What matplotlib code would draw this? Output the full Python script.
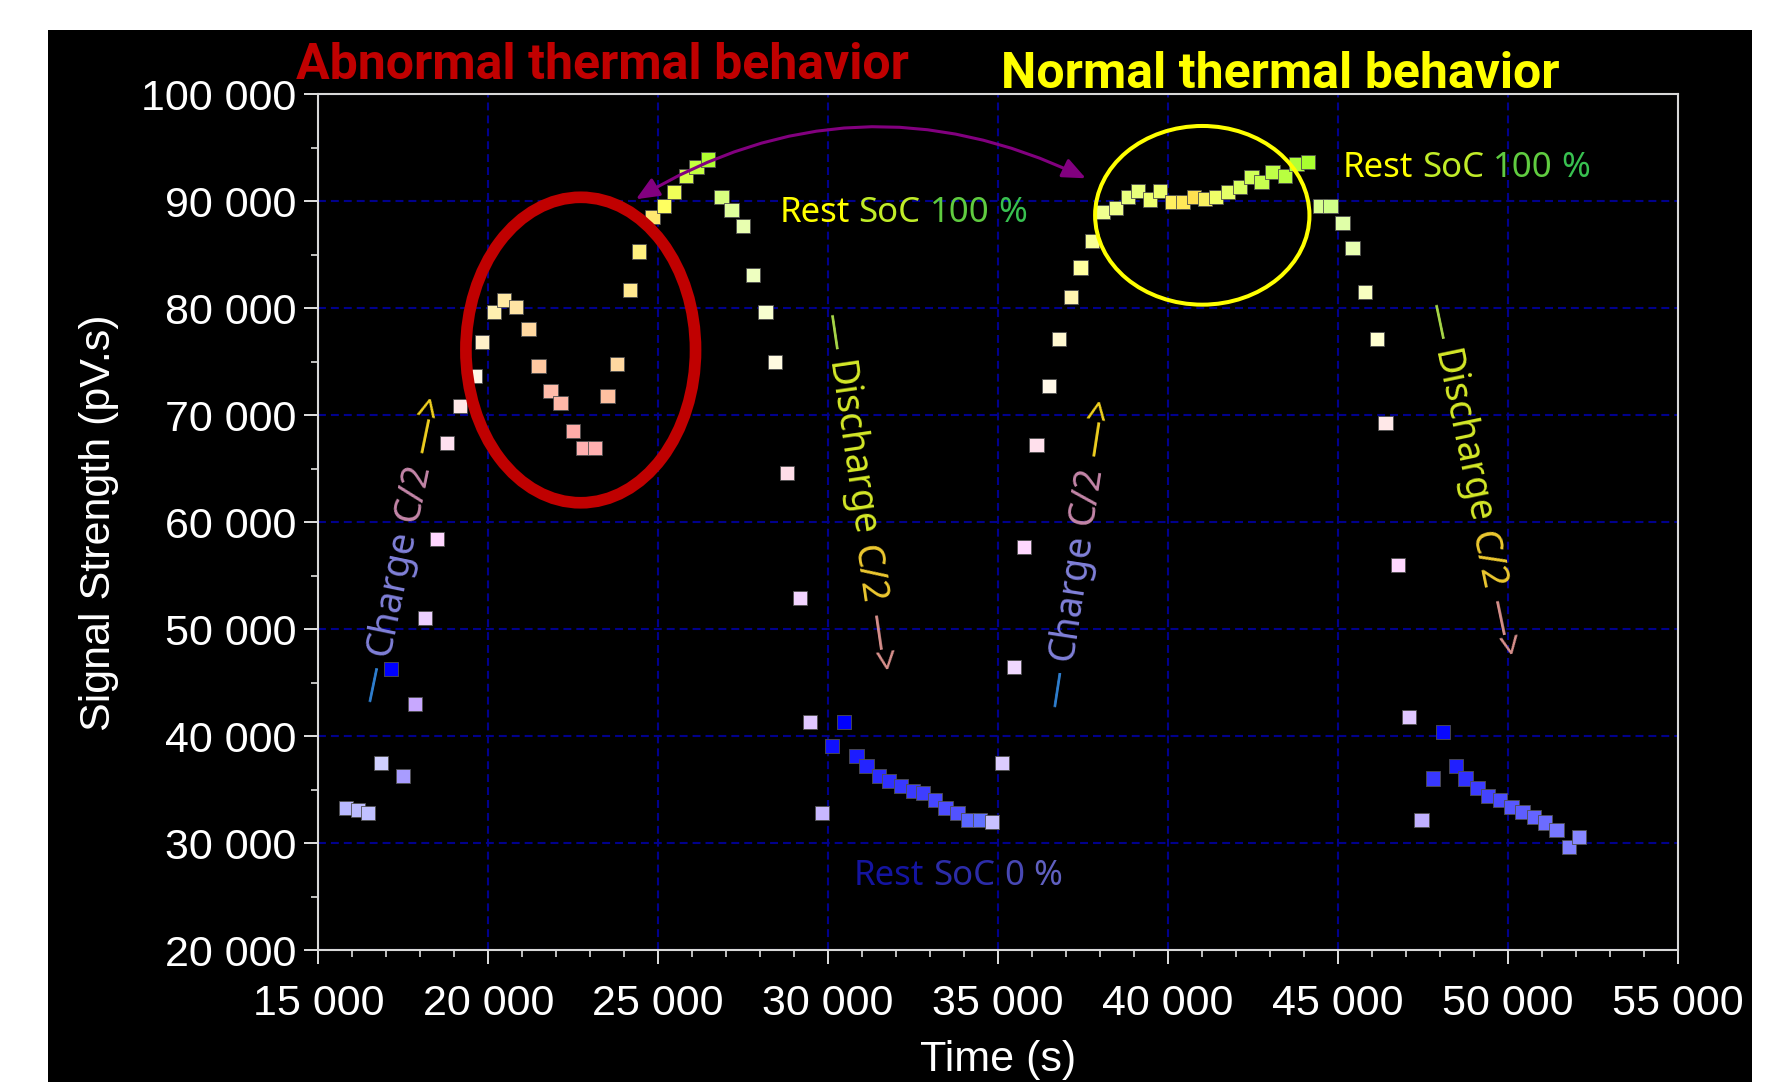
import numpy as np
import matplotlib
matplotlib.use("Agg")
import matplotlib.pyplot as plt
from matplotlib.patches import Ellipse, FancyArrowPatch, Rectangle, ArrowStyle
from matplotlib.ticker import MultipleLocator, FuncFormatter
from matplotlib.font_manager import FontProperties, findfont

# ---------------- data ----------------
time_s = [
    15815, 16176, 16470, 16835, 17130, 17490, 17844, 18138, 18500, 18794,
    19167, 19608, 19806, 20168, 20462, 20815, 21188, 21482, 21835, 22129,
    22500, 22794, 23138, 23511, 23794, 24167, 24441, 24834, 25167, 25461,
    25814, 26129, 26470, 26864, 27158, 27500, 27794, 28158, 28432, 28794,
    29167, 29461, 29823, 30117, 30470, 30835, 31129, 31490, 31785, 32138,
    32500, 32794, 33147, 33452, 33805, 34117, 34461, 34823,
    35117, 35470, 35764, 36128, 36490, 36794, 37137, 37422, 37764, 38088,
    38461, 38823, 39117, 39461, 39755, 40128, 40440, 40755, 41078, 41402,
    41764, 42108, 42452, 42746, 43070, 43432, 43775, 44117, 44460, 44774,
    45128, 45422, 45784, 46146, 46395, 46762, 47078, 47451, 47793, 48087,
    48461, 48745, 49098, 49411, 49755, 50098, 50422, 50763, 51078, 51422,
    51793, 52088]

signal_pvs = [
    33270, 33110, 32860, 37480, 46260, 36320, 42990, 51030, 58470, 67440,
    70870, 73670, 76880, 79630, 80780, 80090, 78040, 74610, 72270, 71120,
    68560, 66970, 66970, 71800, 74790, 81710, 85300, 88500, 89560, 90870,
    92360, 93230, 93920, 90430, 89190, 87690, 83110, 79630, 75010, 64640,
    52900, 41360, 32860, 39090, 41360, 38160, 37250, 36320, 35820, 35380,
    34920, 34730, 34050, 33330, 32800, 32180, 32180, 31960,
    37480, 46450, 57720, 67200, 72740, 77100, 81030, 83800, 86320, 89030,
    89350, 90430, 90990, 90180, 90990, 89960, 89960, 90430, 90210, 90370,
    90900, 91310, 92240, 91830, 92770, 92360, 93490, 93700, 89560, 89560,
    87940, 85610, 81500, 77100, 69300, 56000, 41830, 32180, 36070, 40430,
    37250, 36070, 35140, 34450, 34050, 33360, 32900, 32430, 31930, 31240,
    29630, 30560]

point_colors = [
    '#b8b8ff', '#bcbcff', '#c0c0ff', '#d0d0ff', '#0000ff', '#a89cff', '#c8a8ff', '#ecd0ff', '#ffd6ff', '#ffe0f0',
    '#ffe8e8', '#fff6e6', '#fff0c8', '#fff0b0', '#ffe8a4', '#ffe4a4', '#ffd8a0', '#ffc8a0', '#ffbcaa', '#ffb8a8',
    '#ffaca8', '#ffb0b0', '#ffb0b0', '#ffc0a0', '#ffd8a0', '#ffe890', '#fff080', '#ffe870', '#ffff60', '#f0ff58',
    '#d8ff48', '#c4ff40', '#b0ff30', '#d8ff80', '#e0ff9c', '#e8ffb0', '#eeffc0', '#f8ffd0', '#fffae0', '#ffdde8',
    '#f2d4ff', '#e0c8ff', '#c8b8ff', '#1010ff', '#0000ff', '#1c1cff', '#2424ff', '#2c2cff', '#3030ff', '#3838ff',
    '#3a3aff', '#3e3eff', '#4646ff', '#4c4cff', '#5252ff', '#5a66ff', '#6070ff', '#c8c0ff',
    '#dcccff', '#f0d8ff', '#ffd8ff', '#ffe0ec', '#fff8e8', '#fff8d0', '#fff4b0', '#ffffa0', '#f8ff98', '#f0ff90',
    '#eeff88', '#e8ff80', '#e8ff7c', '#eeff70', '#eeff70', '#fff060', '#ffe858', '#ffe050', '#f8f060', '#f0ff68',
    '#e4ff68', '#d8ff60', '#d0ff58', '#c8ff50', '#c0ff48', '#b8ff40', '#b0ff38', '#a8ff30', '#d8ff90', '#d0ff88',
    '#e0ffa8', '#e8ffb0', '#f8ffc0', '#ffffd0', '#ffe8e8', '#ffd8ff', '#e0c8ff', '#c0b0ff', '#3838ff', '#0808ff',
    '#2020ff', '#3030ff', '#3c3cff', '#4444ff', '#4c4cff', '#5858ff', '#5e5eff', '#6464ff', '#6c6cff', '#7878ff',
    '#8080ff', '#8888ff']

x_ticks = [15000, 20000, 25000, 30000, 35000, 40000, 45000, 50000, 55000]
y_ticks = [20000, 30000, 40000, 50000, 60000, 70000, 80000, 90000, 100000]

title_left = "Abnormal thermal behavior"
title_right = "Normal thermal behavior"
y_label = "Signal Strength (pV.s)"
x_label = "Time (s)"

# ---------------- figure ----------------
W_PX, H_PX, DPI = 1787, 1082, 100
plt.rcParams['font.family'] = ['Liberation Sans', 'DejaVu Sans']

fig = plt.figure(figsize=(W_PX / DPI, H_PX / DPI), dpi=DPI, facecolor='white')
fig.add_artist(Rectangle((48 / W_PX, 0), (1752 - 48) / W_PX, 1 - 30 / H_PX,
                         transform=fig.transFigure, facecolor='black',
                         edgecolor='none', zorder=0))

ax_l, ax_r, ax_t, ax_b = 318.3, 1678.0, 94.3, 950.3
ax = fig.add_axes([ax_l / W_PX, 1 - ax_b / H_PX, (ax_r - ax_l) / W_PX, (ax_b - ax_t) / H_PX])
ax.set_facecolor('black')
ax.set_xlim(x_ticks[0], x_ticks[-1])
ax.set_ylim(y_ticks[0], y_ticks[-1])
ax.set_xticks(x_ticks)
ax.set_yticks(y_ticks)
ax.xaxis.set_minor_locator(MultipleLocator(1000))
ax.yaxis.set_minor_locator(MultipleLocator(5000))
fmt = FuncFormatter(lambda v, p: f"{int(round(v)):,}".replace(",", " "))
ax.xaxis.set_major_formatter(fmt)
ax.yaxis.set_major_formatter(fmt)

ax.grid(True, which='major', color='#00008c', linestyle=(0, (3.8, 2.4)), linewidth=1.5)
ax.set_axisbelow(True)
for s in ax.spines.values():
    s.set_color('#d8d8d8')
    s.set_linewidth(1.5)

ax.tick_params(which='major', direction='out', length=10, width=1.4, color='#e0e0e0',
               labelcolor='white', labelsize=31)
ax.tick_params(which='minor', direction='out', length=5, width=1.2, color='#e0e0e0')
ax.tick_params(axis='x', which='major', pad=14)
ax.tick_params(axis='y', which='major', pad=6)

ax.set_ylabel(y_label, fontsize=31, color='white', labelpad=16)
ax.set_xlabel(x_label, fontsize=31, color='white', va='bottom')
ax.xaxis.set_label_coords(0.5, (ax_b - (H_PX - 2)) / (ax_b - ax_t))

ax.scatter(time_s, signal_pvs, marker='s', s=106, c=point_colors,
           edgecolors='#505050', linewidths=0.6, zorder=3)

# highlight ellipses
ax.add_patch(Ellipse((22720, 76100), 6755, 28550, facecolor='none',
                     edgecolor='#c00000', linewidth=8.4, zorder=4))
ax.add_patch(Ellipse((41005, 88690), 6306, 16700, facecolor='none',
                     edgecolor='#ffff00', linewidth=2.9, zorder=4))

# purple curved double arrow
ax.add_patch(FancyArrowPatch((24344, 90190), (37578, 92150),
                             arrowstyle=ArrowStyle('<|-|>', head_length=14, head_width=6),
                             connectionstyle='arc3,rad=-0.27', color='#82007f',
                             linewidth=2.2, mutation_scale=1, shrinkA=0, shrinkB=0,
                             zorder=5))

# ---------------- texts ----------------
_font_cache = {}


def em_advance(s, path):
    try:
        if path not in _font_cache:
            from fontTools.ttLib import TTFont
            f = TTFont(path, fontNumber=0)
            _font_cache[path] = (f.getBestCmap(), f['hmtx'], f['head'].unitsPerEm)
        cmap, hmtx, upem = _font_cache[path]
        tot = 0
        for ch in s:
            g = cmap.get(ord(ch))
            tot += hmtx[g][0] if g is not None else 0.55 * upem
        return tot / upem
    except Exception:
        return 0.58 * len(s)


def place_words(segs, x, y, angle, size, family='Noto Sans', anchor='start',
                mid=0.32, weight='normal'):
    prop = FontProperties(family=family, size=size, weight=weight)
    path = findfont(prop)
    em = size * DPI / 72.0
    sp = em_advance(' ', path) * em
    advs = [em_advance(t, path) * em for t, c in segs]
    total = sum(advs) + sp * (len(segs) - 1)
    th = np.deg2rad(angle)
    d = np.array([np.cos(th), np.sin(th)])
    u = np.array([-np.sin(th), np.cos(th)])
    p = np.array([x, H_PX - y], float)
    if anchor == 'center':
        p = p - d * total / 2 - u * mid * em
    for (t, c), a in zip(segs, advs):
        fig.text(p[0] / W_PX, p[1] / H_PX, t, color=c, fontsize=size,
                 family=[family, 'DejaVu Sans'], weight=weight, rotation=angle,
                 rotation_mode='anchor', ha='left', va='baseline', zorder=6)
        p = p + d * (a + sp)


fig.text(296 / W_PX, 1 - 79.3 / H_PX, title_left, color='#c00000', fontsize=36,
         family=['Roboto', 'DejaVu Sans'], weight='bold', ha='left', va='baseline')
fig.text(1001.5 / W_PX, 1 - 87.5 / H_PX, title_right, color='#ffff00', fontsize=36,
         family=['Roboto', 'DejaVu Sans'], weight='bold', ha='left', va='baseline')

rest_full = [("Rest", '#ffff00'), ("SoC", '#c0ec28'), ("100", '#60cc40'), ("%", '#38c050')]
rest_empty = [("Rest", '#1414a0'), ("SoC", '#2c2ca8'), ("0", '#4848b4'), ("%", '#6060c0')]
charge_txt = [("—", '#2f7fd0'), ("Charge", '#8080d8'), ("C/2", '#c486a8'), ("—>", '#f0d020')]
discharge_txt = [("—", '#a8d848'), ("Discharge", '#d4e828'), ("C/2", '#ecc830'), ("—>", '#d8908c')]

place_words(rest_full, 779.3, 221.7, 0, 25)
place_words(rest_full, 1342.7, 177.3, 0, 25)
place_words(rest_empty, 854, 885, 0, 25)

place_words(charge_txt, 399, 548, 78.3, 27, anchor='center')
place_words(charge_txt, 1076, 552, 81.3, 27, anchor='center')
place_words(discharge_txt, 858, 493, -81.7, 27, anchor='center')
place_words(discharge_txt, 1472, 480, -78.2, 27, anchor='center')

fig.savefig('out.png', dpi=DPI, facecolor='white')
